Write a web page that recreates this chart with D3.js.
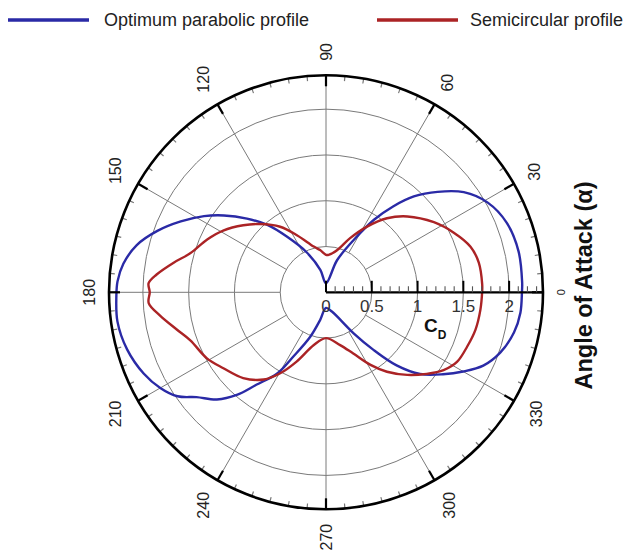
<!DOCTYPE html>
<html>
<head>
<meta charset="utf-8">
<script src="https://cdn.jsdelivr.net/npm/d3@7"></script>
<style>
  body { margin: 0; background: #fff; }
  svg { display: block; font-family: "Liberation Sans", Arial, sans-serif; }
</style>
</head>
<body>
<svg id="chart" width="626" height="555"></svg>
<script>
// Drag coefficient C_D versus angle of attack (degrees) for two profiles
const seriesNames = ["Optimum parabolic profile", "Semicircular profile"];
const seriesColors = ["#2a2aa6", "#ab2325"];

const parabolicAngle = [0, 3, 12, 21, 29, 36, 42, 47.5, 52, 56.5, 62, 71, 90,
  104, 116, 125, 131, 137, 143, 148, 154, 160, 166, 172, 177, 181, 188, 196,
  204, 210, 215, 219, 224.5, 229, 233, 239, 243, 250.5, 258, 270,
  287, 304, 309.5, 314, 319, 325, 330, 335, 341, 348, 354];
const parabolicCD = [2.14, 2.145, 2.15, 2.115, 2.02, 1.86, 1.64, 1.42, 1.19,
  0.95, 0.65, 0.37, 0.1,
  0.25, 0.49, 0.74, 0.975, 1.18, 1.395, 1.57, 1.765, 1.96, 2.13, 2.235, 2.28,
  2.29, 2.3, 2.26, 2.18, 2.09, 1.98, 1.82, 1.67, 1.485, 1.265, 1.035, 0.79,
  0.515, 0.31, 0.17,
  0.22, 0.54, 0.815, 1.11, 1.36, 1.56, 1.73, 1.895, 2.015, 2.1, 2.135];

const semicircAngle = [0, 3, 11, 17.5, 25, 33, 43, 50.5, 58, 66, 75, 86, 90,
  98, 105, 117, 125, 134, 141, 149, 156, 164, 169, 174, 177, 180, 183.5, 188,
  194, 199.5, 209, 216.5, 226, 234.5, 240.5, 247, 257, 270,
  285, 294, 301.5, 307.5, 314.5, 321, 326.5, 332, 339, 346, 353.5];
const semicircCD = [1.705, 1.708, 1.7, 1.655, 1.54, 1.405, 1.215, 1.048, 0.846,
  0.647, 0.478, 0.41, 0.41,
  0.466, 0.517, 0.7, 0.874, 1.036, 1.163, 1.31, 1.42, 1.543, 1.695, 1.86, 1.94,
  1.925, 1.94, 1.83, 1.68, 1.572, 1.487, 1.394, 1.302, 1.17, 1.016, 0.822,
  0.59, 0.5,
  0.597, 0.732, 0.93, 1.094, 1.265, 1.415, 1.54, 1.62, 1.652, 1.683, 1.697];

const angleTicks = [0, 30, 60, 90, 120, 150, 180, 210, 240, 270, 300, 330];
const radialTicks = [0, 0.5, 1, 1.5, 2];
const radialLabels = ["0", "0.5", "1", "1.5", "2"];
const axisTitle = "Angle of Attack (\u03b1)";

const svg = d3.select("#chart");
const cx = 326, cy = 292.3, R = 217;
const rMax = 2.37;
const r = d3.scaleLinear().domain([0, rMax]).range([0, R]);
const toRad = d => d * Math.PI / 180;
// polar (deg, value) -> screen offset from centre
const px = (deg, v) => r(v) * Math.cos(toRad(deg));
const py = (deg, v) => -r(v) * Math.sin(toRad(deg));

const g = svg.append("g").attr("transform", `translate(${cx},${cy})`);

// grid circles
const gridCircles = [0.5, 1, 1.5, 2];
g.append("g").selectAll("circle").data(gridCircles).join("circle")
  .attr("r", d => r(d)).attr("fill", "none")
  .attr("stroke", "#7a7a7a").attr("stroke-width", 1);

// radial spokes from the 0.5 ring to the rim
g.append("g").selectAll("line").data(angleTicks.filter(a => a !== 0)).join("line")
  .attr("x1", a => px(a, 0.5)).attr("y1", a => py(a, 0.5))
  .attr("x2", a => px(a, rMax)).attr("y2", a => py(a, rMax))
  .attr("stroke", "#7a7a7a").attr("stroke-width", 1);

// data curves
const line = d3.lineRadial()
  .angle(d => toRad(90 - d[0]))
  .radius(d => r(d[1]))
  .curve(d3.curveCatmullRomClosed.alpha(0.5));

const series = [
  d3.zip(parabolicAngle, parabolicCD),
  d3.zip(semicircAngle, semicircCD)
];
g.append("g").selectAll("path").data(series).join("path")
  .attr("d", d => line(d))
  .attr("fill", "none")
  .attr("stroke", (d, i) => seriesColors[i])
  .attr("stroke-width", 2.4)
  .attr("stroke-linejoin", "round");

// angular ticks on the rim: minor every 5 deg, major every 30 deg
const minorAngles = d3.range(0, 360, 5).filter(a => a % 30 !== 0);
g.append("g").selectAll("line").data(minorAngles).join("line")
  .attr("x1", a => Math.cos(toRad(a)) * R).attr("y1", a => -Math.sin(toRad(a)) * R)
  .attr("x2", a => Math.cos(toRad(a)) * (R - 5)).attr("y2", a => -Math.sin(toRad(a)) * (R - 5))
  .attr("stroke", "#777").attr("stroke-width", 1.2);
g.append("g").selectAll("line").data(angleTicks).join("line")
  .attr("x1", a => Math.cos(toRad(a)) * R).attr("y1", a => -Math.sin(toRad(a)) * R)
  .attr("x2", a => Math.cos(toRad(a)) * (R - 11)).attr("y2", a => -Math.sin(toRad(a)) * (R - 11))
  .attr("stroke", "#000").attr("stroke-width", 2.2);

// outer rim
g.append("circle").attr("r", R).attr("fill", "none")
  .attr("stroke", "#000").attr("stroke-width", 2.6);

// radial C_D axis along 0 deg
g.append("line").attr("x1", 0).attr("y1", 0).attr("x2", R).attr("y2", 0)
  .attr("stroke", "#000").attr("stroke-width", 2.2);
const minorRadial = d3.range(1, 24).map(i => i / 10).filter(v => Math.abs(v * 2 - Math.round(v * 2)) > 1e-6);
g.append("g").selectAll("line").data(minorRadial).join("line")
  .attr("x1", v => r(v)).attr("x2", v => r(v)).attr("y1", 0).attr("y2", -6)
  .attr("stroke", "#555").attr("stroke-width", 1.1);
g.append("g").selectAll("line").data(radialTicks).join("line")
  .attr("x1", v => r(v)).attr("x2", v => r(v)).attr("y1", 0).attr("y2", -11.5)
  .attr("stroke", "#000").attr("stroke-width", 2);

g.append("g").selectAll("text").data(radialTicks).join("text")
  .attr("x", v => r(v)).attr("y", 19.5)
  .attr("text-anchor", "middle")
  .attr("font-size", 17).attr("fill", "#333")
  .text((v, i) => radialLabels[i]);

// C_D axis label
const cd = g.append("text").attr("x", 98).attr("y", 39.5)
  .attr("font-size", 19).attr("font-weight", "bold").attr("fill", "#111");
cd.append("tspan").text("C");
cd.append("tspan").attr("font-size", 12).attr("dy", 7).text("D");

// angle labels, written vertically outside the rim
const gap = 14.5;
angleTicks.forEach(a => {
  const fs = a === 0 ? 11 : 16;
  const len = String(a).length * 0.556 * fs;  // text length (vertical on screen)
  const hgt = 0.72 * fs;                        // glyph height (horizontal on screen)
  const c = Math.cos(toRad(a)), s = Math.sin(toRad(a));
  const half = Math.abs(c) * hgt / 2 + Math.abs(s) * len / 2;
  const d = R + gap + half;
  g.append("text")
    .attr("transform", `translate(${c * d},${-s * d}) rotate(-90)`)
    .attr("text-anchor", "middle")
    .attr("dy", "0.36em")
    .attr("font-size", fs).attr("fill", "#222")
    .text(a);
});

// angular axis title
svg.append("text")
  .attr("transform", `translate(584,285.5) rotate(-90)`)
  .attr("text-anchor", "middle")
  .attr("dy", "0.36em")
  .attr("font-size", 23.5).attr("font-weight", "bold").attr("fill", "#111")
  .text(axisTitle);

// legend
const legendX = [8, 377];
const legendTextX = [104, 470];
const legend = svg.append("g");
seriesNames.forEach((name, i) => {
  legend.append("line")
    .attr("x1", legendX[i]).attr("x2", legendX[i] + 81)
    .attr("y1", 20).attr("y2", 20)
    .attr("stroke", seriesColors[i]).attr("stroke-width", 3.6);
  legend.append("text")
    .attr("x", legendTextX[i]).attr("y", 26)
    .attr("font-size", 18).attr("fill", "#222")
    .text(name);
});
</script>
</body>
</html>
